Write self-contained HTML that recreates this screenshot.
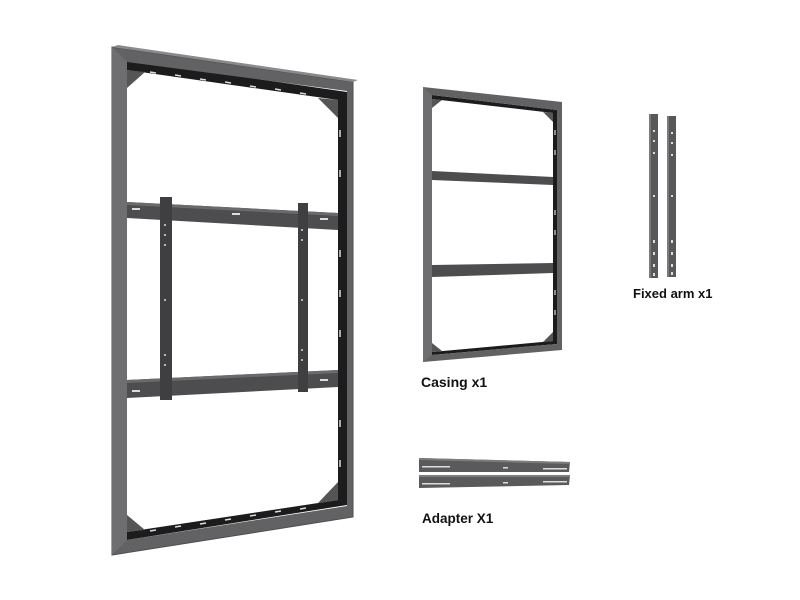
<!DOCTYPE html>
<html><head><meta charset="utf-8"><style>
html,body{margin:0;padding:0;background:#fff;width:800px;height:600px;overflow:hidden}
svg{display:block}
text{font-family:"Liberation Sans",Arial,sans-serif;font-weight:bold;fill:#111}
</style></head><body>
<svg width="800" height="600" viewBox="0 0 800 600" xmlns="http://www.w3.org/2000/svg">
<!-- Large frame -->
<g>
  <!-- dark inner back -->
  <polygon points="127,60 347,92 347,505 127,540" fill="#1c1c1c"/>
  <!-- white opening -->
  <polygon points="127,70 338,100 338,500 127,532" fill="#fff"/>
  <!-- corner gussets -->
  <polygon points="127,70 145,72 127,88" fill="#555"/>
  <polygon points="338,100 318,98 338,118" fill="#555"/>
  <polygon points="127,532 145,530 127,515" fill="#555"/>
  <polygon points="338,500 318,503 338,482" fill="#555"/>
  <!-- front face -->
  <polygon points="112,47 353,82 353,517 112,555 112,47 127,62 127,540 347,506 347,91 127,62" fill="#626264" fill-rule="evenodd"/>
  <polygon points="112,47 353,82 353,517 112,555" fill="none" stroke="#4e4e50" stroke-width="1"/>
  <polygon points="112,47 118,45 358,80 353,82" fill="#8a8a8c"/>
  <polygon points="112,47 127,62 127,540 112,555" fill="#6e6e70"/>
  <!-- slots top/bottom/right -->
  <g stroke="#ddd" stroke-width="1.5">
    <line x1="150" y1="72" x2="156" y2="73"/><line x1="175" y1="75" x2="181" y2="76"/><line x1="200" y1="79" x2="206" y2="80"/><line x1="225" y1="82" x2="231" y2="83"/><line x1="250" y1="86" x2="256" y2="87"/><line x1="275" y1="89" x2="281" y2="90"/><line x1="300" y1="93" x2="306" y2="94"/>
    <line x1="150" y1="531" x2="156" y2="530"/><line x1="175" y1="527" x2="181" y2="526"/><line x1="200" y1="524" x2="206" y2="523"/><line x1="225" y1="520" x2="231" y2="519"/><line x1="250" y1="516" x2="256" y2="515"/><line x1="275" y1="512" x2="281" y2="511"/><line x1="300" y1="509" x2="306" y2="508"/>
    <line x1="340" y1="130" x2="340" y2="137"/><line x1="340" y1="170" x2="340" y2="177"/><line x1="340" y1="250" x2="340" y2="257"/><line x1="340" y1="290" x2="340" y2="297"/><line x1="340" y1="330" x2="340" y2="337"/><line x1="340" y1="420" x2="340" y2="427"/><line x1="340" y1="460" x2="340" y2="467"/>
  </g>
  <!-- crossbars -->
  <polygon points="127,202 338,213 338,230 127,218" fill="#4d4d4f"/>
  <polygon points="127,202 338,213 338,216 127,205" fill="#6a6a6c"/>
  <polygon points="127,380 338,370 338,387 127,398" fill="#4d4d4f"/>
  <polygon points="127,380 338,370 338,373 127,383" fill="#6a6a6c"/>
  <!-- vertical arms -->
  <rect x="160" y="197" width="12" height="203" fill="#3f3f41"/>
  <rect x="298" y="203" width="10" height="189" fill="#3f3f41"/>
  <g fill="#ddd">
    <rect x="132" y="208" width="8" height="2"/><rect x="232" y="213" width="8" height="2"/><rect x="320" y="218" width="8" height="2"/>
    <rect x="132" y="390" width="8" height="2"/><rect x="320" y="379" width="8" height="2"/>
    <circle cx="165" cy="225" r="1"/><circle cx="165" cy="235" r="1"/><circle cx="165" cy="245" r="1"/><circle cx="165" cy="300" r="1"/><circle cx="165" cy="355" r="1"/><circle cx="165" cy="365" r="1"/>
    <circle cx="302" cy="230" r="1"/><circle cx="302" cy="240" r="1"/><circle cx="302" cy="300" r="1"/><circle cx="302" cy="350" r="1"/><circle cx="302" cy="360" r="1"/>
  </g>
</g>

<!-- Casing -->
<g>
  <polygon points="432,95 557,110 557,344 432,355" fill="#1c1c1c"/>
  <polygon points="432,99 553,113 553,341 432,352" fill="#fff"/>
  <polygon points="432,99 442,100 432,108" fill="#555"/>
  <polygon points="553,113 543,112 553,122" fill="#555"/>
  <polygon points="432,352 442,351 432,343" fill="#555"/>
  <polygon points="553,341 543,342 553,332" fill="#555"/>
  <polygon points="423,87 562,102 562,350 423,362 423,87 432,95 432,355 557,344 557,110 432,95" fill="#626264" fill-rule="evenodd"/>
  <polygon points="423,87 432,95 432,355 423,362" fill="#6e6e70"/>
  <polygon points="432,171 553,177 553,185 432,180" fill="#4d4d4f"/>
  <polygon points="432,265 553,263 553,273 432,277" fill="#4d4d4f"/>
  <g stroke="#ddd" stroke-width="1.2">
    <line x1="555" y1="130" x2="555" y2="135"/><line x1="555" y1="150" x2="555" y2="155"/><line x1="555" y1="210" x2="555" y2="215"/><line x1="555" y1="230" x2="555" y2="235"/><line x1="555" y1="290" x2="555" y2="295"/><line x1="555" y1="310" x2="555" y2="315"/>
  </g>
</g>

<!-- Fixed arms -->
<g>
  <rect x="649" y="114" width="9" height="164" fill="#58585a"/>
  <rect x="649" y="114" width="2" height="164" fill="#7a7a7c"/>
  <rect x="667" y="116" width="9" height="161" fill="#58585a"/>
  <rect x="667" y="116" width="2" height="161" fill="#7a7a7c"/>
  <g fill="#ddd">
    <rect x="653" y="130" width="2" height="2"/><rect x="653" y="140" width="2" height="2"/><rect x="653" y="152" width="2" height="2"/><rect x="653" y="195" width="2" height="2"/><rect x="653" y="240" width="2" height="3"/><rect x="653" y="252" width="2" height="3"/><rect x="653" y="264" width="2" height="3"/><rect x="653" y="273" width="2" height="3"/>
    <rect x="671" y="132" width="2" height="2"/><rect x="671" y="142" width="2" height="2"/><rect x="671" y="154" width="2" height="2"/><rect x="671" y="195" width="2" height="2"/><rect x="671" y="240" width="2" height="3"/><rect x="671" y="252" width="2" height="3"/><rect x="671" y="264" width="2" height="3"/><rect x="671" y="272" width="2" height="3"/>
  </g>
</g>

<!-- Adapter bars -->
<g>
  <polygon points="419,458 570,462 569,472 419,472" fill="#5a5a5c"/>
  <polygon points="419,458 570,462 570,464 419,460" fill="#7c7c7e"/>
  <polygon points="419,475 570,475 569,485 419,488" fill="#5a5a5c"/>
  <polygon points="419,475 570,475 570,477 419,477" fill="#7c7c7e"/>
  <g fill="#ddd">
    <rect x="422" y="466" width="28" height="1.5"/><rect x="503" y="467" width="5" height="1.5"/><rect x="543" y="468" width="24" height="1.5"/>
    <rect x="422" y="483" width="28" height="1.5"/><rect x="503" y="482" width="5" height="1.5"/><rect x="543" y="481" width="24" height="1.5"/>
  </g>
</g>

<text x="421" y="387" font-size="14">Casing x1</text>
<text x="633" y="298" font-size="13">Fixed arm x1</text>
<text x="422" y="523" font-size="13.5">Adapter X1</text>
</svg>
</body></html>
